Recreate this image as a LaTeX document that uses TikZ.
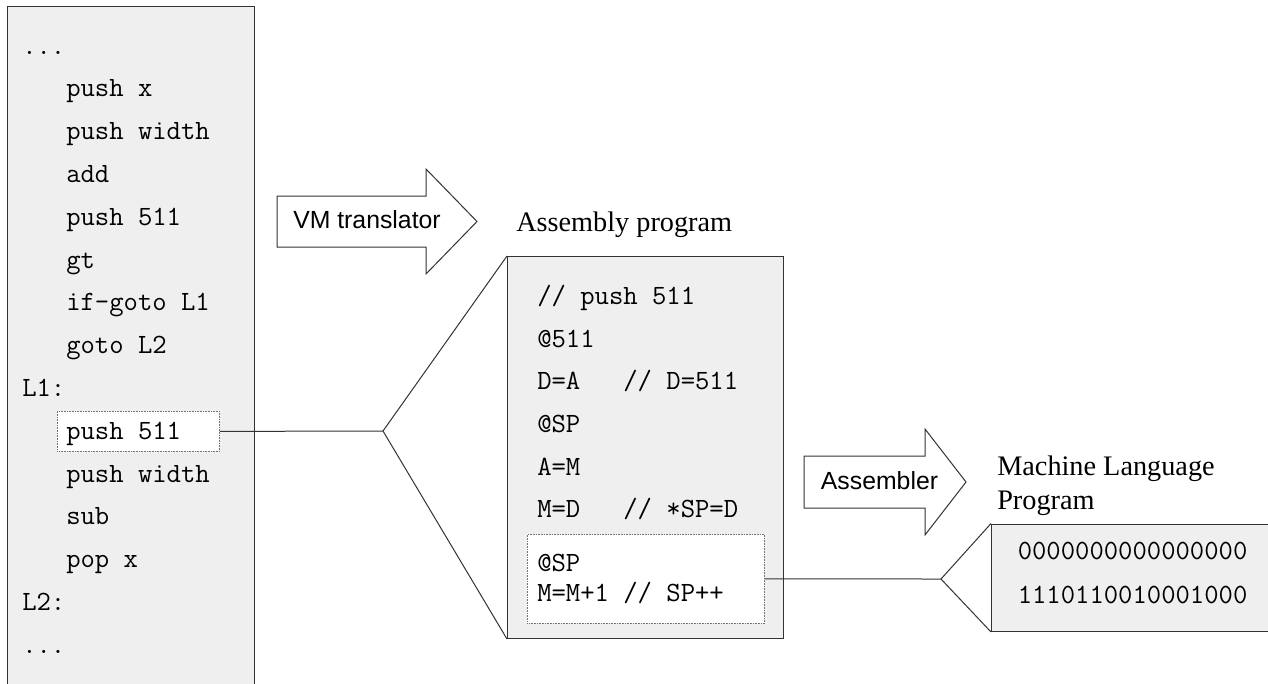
\documentclass[tikz,border=0pt]{standalone}
\usepackage{fontspec}
\newfontfamily\labelsans{Liberation Sans}
\newfontfamily\labelserif{Liberation Serif}
\definecolor{panelgray}{HTML}{EFEFEF}
\definecolor{edge}{HTML}{333333}

\tikzset{
  panel/.style={draw=edge, fill=panelgray, line width=0.75pt, inner sep=0pt, anchor=north west},
  focus/.style={draw=black!55, fill=white, line width=0.6pt, dash pattern=on 0.6pt off 0.6pt, inner sep=0pt, anchor=north west},
  code/.style={font=\ttfamily\fontsize{20.9pt}{25pt}\selectfont, inner sep=0pt, anchor=base west},
  tool/.style={font=\labelsans\fontsize{18.6pt}{22pt}\selectfont, inner sep=0pt, anchor=base},
  title/.style={font=\labelserif\fontsize{21.2pt}{25pt}\selectfont, inner sep=0pt, anchor=base west},
  blockarrow/.style={draw=edge, fill=white, line width=0.75pt, line join=miter},
  link/.style={draw=edge, line width=0.75pt},
}

\begin{document}
\begin{tikzpicture}[x=0.75pt,y=-0.75pt]
\useasboundingbox (0,0) rectangle (1268,683);
\clip (0,0) rectangle (1268,683);
\fill[white] (0,0) rectangle (1268,683);

% ---- boxes ----
\node[panel, minimum width=185.25pt, minimum height=525pt] (vm) at (7,6) {};
\node[focus, minimum width=121.5pt, minimum height=30pt] (hl) at (57,411) {};
\node[panel, minimum width=207pt, minimum height=286.5pt] (asm) at (507,256) {};
\node[focus, minimum width=177.75pt, minimum height=66.75pt] (inner) at (527,534) {};
\node[panel, minimum width=220.5pt, minimum height=80.6pt] (mc) at (991,523.5) {};

% ---- zoom connectors ----
\coordinate (fan1) at (383,431);
\draw[link] (hl.east) -- (fan1);
\draw[link] (asm.north west) -- (fan1) -- (asm.south west);
\coordinate (fan2) at (941,579);
\draw[link] (inner.east) -- (fan2);
\draw[link] (mc.north west) -- (fan2) -- (mc.south west);

% ---- VM code ----
\node[code] (v0)  at (22,54)    {...};
\node[code] (v1)  at (66,96.8)  {push x};
\node[code] (v2)  at (66,139.6) {push width};
\node[code] (v3)  at (66,182.4) {add};
\node[code] (v4)  at (66,225.2) {push 511};
\node[code] (v5)  at (66,268)   {gt};
\node[code] (v6)  at (66,310.8) {if-goto L1};
\node[code] (v7)  at (66,353.6) {goto L2};
\node[code] (v8)  at (22,396.4) {L1:};
\node[code] (v9)  at (66,439.2) {push 511};
\node[code] (v10) at (66,482)   {push width};
\node[code] (v11) at (66,524.8) {sub};
\node[code] (v12) at (66,567.6) {pop x};
\node[code] (v13) at (22,610.4) {L2:};
\node[code] (v14) at (22,653.2) {...};

% ---- assembly code ----
\node[code] (a0) at (537,304.3) {// push 511};
\node[code] (a1) at (537,347)   {@511};
\node[code] (a2) at (537,389.7) {D=A\ \ \ // D=511};
\node[code] (a3) at (537,432.4) {@SP};
\node[code] (a4) at (537,475.1) {A=M};
\node[code] (a5) at (537,517.8) {M=D\ \ \ // *SP=D};
\node[code] (a6) at (537,571.7) {@SP};
\node[code] (a7) at (537,601.7) {M=M+1 // SP++};

% ---- machine code ----
\node[code] (m0) at (1017.5,559.3) {0000000000000000};
\node[code] (m1) at (1017.5,603.3) {1110110010001000};

% ---- translation arrows ----
\draw[blockarrow] (277,196) -- (426,196) -- (426,169) -- (477,221.5) -- (426,274) -- (426,247) -- (277,247) -- cycle;
\node[tool] (vmt) at (367,228) {VM translator};
\draw[blockarrow] (804,456) -- (925,456) -- (925,429) -- (966,482) -- (925,535) -- (925,508) -- (804,508) -- cycle;
\node[tool] (asmt) at (879.5,489) {Assembler};

% ---- titles ----
\node[title] (asmtitle) at (516,231) {Assembly program};
\node[title] (mctitle1) at (997,475) {Machine Language};
\node[title] (mctitle2) at (997,509) {Program};
\end{tikzpicture}
\end{document}
